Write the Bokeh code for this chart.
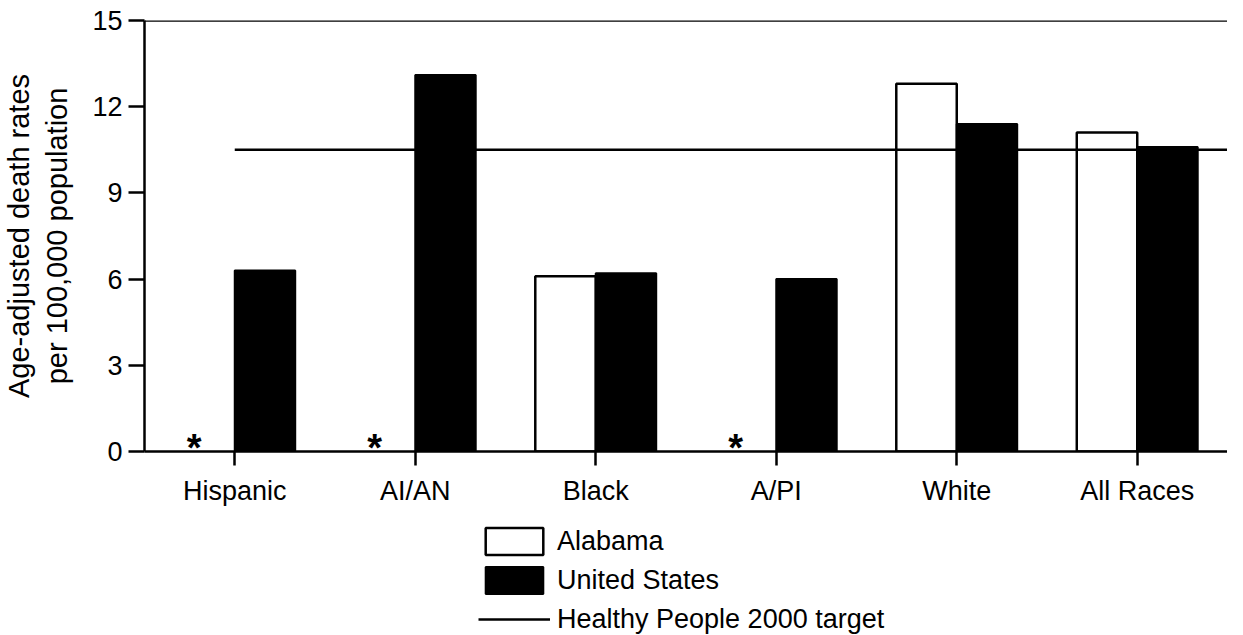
from bokeh.plotting import figure
from bokeh.layouts import column
from bokeh.models import ColumnDataSource, Range1d, FactorRange, Span, Legend, LegendItem
from bokeh.transform import dodge
from bokeh.core.properties import value
from bokeh.embed import file_html
from bokeh.resources import INLINE

# ---- data ----
categories = ["Hispanic", "AI/AN", "Black", "A/PI", "White", "All Races"]
alabama = [None, None, 6.1, None, 12.8, 11.1]          # None = not shown (*)
united_states = [6.3, 13.1, 6.2, 6.0, 11.4, 10.6]
target = 10.5                                            # Healthy People 2000 target
y_ticks = [0, 3, 6, 9, 12, 15]
y_title = "Age-adjusted death rates\nper 100,000 population"
series_names = ["Alabama", "United States", "Healthy People 2000 target"]

FONT = "Liberation Sans"
FS = "27px"

al_cats = [c for c, v in zip(categories, alabama) if v is not None]
al_vals = [v for v in alabama if v is not None]
star_cats = [c for c, v in zip(categories, alabama) if v is None]

al_src = ColumnDataSource(dict(cat=al_cats, val=al_vals))
us_src = ColumnDataSource(dict(cat=categories, val=united_states))
star_src = ColumnDataSource(dict(cat=star_cats, txt=["*"] * len(star_cats)))
tgt_src = ColumnDataSource(dict(x0=[categories[0]], x1=[categories[-1]], y=[target]))

AL_STYLE = dict(fill_color="white", line_color="black", line_width=2.5)
US_STYLE = dict(fill_color="black", line_color="black", line_width=2)
TG_STYLE = dict(line_color="black", line_width=2.5)

p = figure(x_range=FactorRange(*categories), y_range=Range1d(0, 15),
           width=1227, height=511,
           min_border_left=136, min_border_top=20, min_border_right=0, min_border_bottom=60,
           output_backend="svg", toolbar_location=None)
p.outline_line_color = None
p.xgrid.visible = False
p.ygrid.visible = False
p.background_fill_color = "white"

bw = 0.335
p.vbar(x=dodge("cat", -bw / 2, range=p.x_range), top="val", width=bw, bottom=0,
       source=al_src, **AL_STYLE)
p.vbar(x=dodge("cat", bw / 2, range=p.x_range), top="val", width=bw, bottom=0,
       source=us_src, **US_STYLE)
p.segment(x0="x0", y0="y", x1=dodge("x1", 0.5, range=p.x_range), y1="y",
          source=tgt_src, **TG_STYLE)
p.text(x=dodge("cat", -0.225, range=p.x_range), y=0, text="txt", source=star_src,
       text_font=value(FONT), text_font_size="38px", text_font_style="bold",
       text_align="center", text_baseline="alphabetic", y_offset=-4, text_color="black")

p.add_layout(Span(location=15, dimension="width", line_color="black", line_width=2.5))

# axes
xa = p.xaxis[0]
xa.major_label_text_font = FONT
xa.major_label_text_font_size = FS
xa.major_label_text_color = "black"
xa.major_tick_out = 14
xa.major_tick_in = 0
xa.major_tick_line_width = 2.5
xa.axis_line_width = 2.5
xa.major_label_standoff = 10

ya = p.yaxis[0]
ya.ticker = y_ticks
ya.major_label_text_font = FONT
ya.major_label_text_font_size = FS
ya.major_label_text_color = "black"
ya.major_tick_out = 16
ya.major_tick_in = 0
ya.minor_tick_out = 0
ya.minor_tick_in = 0
ya.major_tick_line_width = 2.5
ya.axis_line_width = 2.5
ya.major_label_standoff = 6
ya.axis_label = y_title
ya.axis_label_text_font = FONT
ya.axis_label_text_font_size = "29px"
ya.axis_label_text_font_style = "normal"
ya.axis_label_text_color = "black"
ya.axis_label_standoff = 16

# ---- legend strip below the chart (hidden proxy renderers carry the styles) ----
lg = figure(x_range=Range1d(0, 1), y_range=Range1d(0, 1), width=1227, height=125,
            min_border=0, output_backend="svg", toolbar_location=None)
lg.outline_line_color = None
lg.axis.visible = False
lg.xgrid.visible = False
lg.ygrid.visible = False
proxy = ColumnDataSource(dict(x=[0.5], y=[0.5]))
l_al = lg.vbar(x="x", top="y", width=0.1, source=proxy, visible=False, **AL_STYLE)
l_us = lg.vbar(x="x", top="y", width=0.1, source=proxy, visible=False, **US_STYLE)
l_tg = lg.segment(x0="x", y0="y", x1="x", y1="y", source=proxy, visible=False, **TG_STYLE)

legend = Legend(items=[LegendItem(label=n, renderers=[r])
                       for n, r in zip(series_names, [l_al, l_us, l_tg])],
                location=(334, 0), orientation="vertical",
                glyph_width=72, glyph_height=34, label_height=31, label_standoff=7,
                spacing=5, padding=0, margin=0,
                border_line_color=None, background_fill_alpha=0,
                inactive_fill_alpha=0,
                label_text_font=FONT, label_text_font_size=FS, label_text_color="black")
lg.add_layout(legend, "center")

layout = column(p, lg, spacing=0)
open("out.html", "w").write(file_html(layout, INLINE))
